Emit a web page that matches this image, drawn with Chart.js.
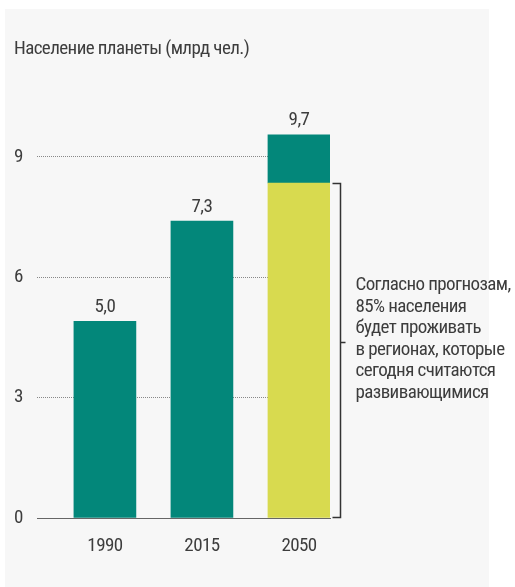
<!DOCTYPE html>
<html lang="ru">
<head>
<meta charset="utf-8">
<script src="https://cdn.jsdelivr.net/npm/chart.js@4.4.1/dist/chart.umd.min.js"></script>
<style>
  html, body { margin: 0; padding: 0; background: #ffffff; }
  #wrap { position: absolute; left: 0; top: 0; width: 515px; height: 587px; }
</style>
</head>
<body>
<div id="wrap"><canvas id="popChart" width="515" height="587"></canvas></div>
<script>
// Данные графика
const years = ['1990', '2015', '2050'];
const lowerValues = [4.9, 7.4, 8.35];      // нижняя часть столбца
const upperValues = [null, null, 1.2];     // верхняя часть (только 2050)
const valueLabels = ['5,0', '7,3', '9,7'];
const yTickValues = [0, 3, 6, 9];
const chartTitle = 'Население планеты (млрд чел.)';
const noteLines = [
    'Согласно прогнозам,',
    '85% населения',
    'будет проживать',
    'в регионах, которые',
    'сегодня считаются',
    'развивающимися'
];

const TEAL = '#03877a';
const YELLOW = '#d8da4f';
const TEXT = '#3d3d3d';
const FONT = "'Roboto Condensed', 'Liberation Sans Narrow', 'Arial Narrow', 'DejaVu Sans Condensed', Roboto, sans-serif";
const lowerColors = [TEAL, TEAL, YELLOW];

Chart.defaults.font.family = FONT;
Chart.defaults.font.size = 19;
Chart.defaults.color = TEXT;

// серый фон-подложка + более узкий шрифт
const panelPlugin = {
    id: 'panel',
    beforeUpdate(chart) {
        chart.ctx.letterSpacing = '-0.6px';
    },
    beforeDraw(chart) {
        const ctx = chart.ctx;
        ctx.letterSpacing = '-0.6px';
        ctx.save();
        ctx.fillStyle = '#f7f7f7';
        ctx.fillRect(5, 9, 484, 578);
        ctx.restore();
    }
};

// подписи значений над столбцами и скобка с комментарием
const labelsPlugin = {
    id: 'valueLabels',
    afterDatasetsDraw(chart) {
        const ctx = chart.ctx;
        const yScale = chart.scales.y;
        const meta = chart.getDatasetMeta(0);
        ctx.save();
        ctx.font = '19px ' + FONT;
        ctx.fillStyle = TEXT;
        ctx.textAlign = 'center';
        ctx.textBaseline = 'alphabetic';
        years.forEach((y, i) => {
            const total = lowerValues[i] + (upperValues[i] || 0);
            const top = yScale.getPixelForValue(total);
            ctx.fillText(valueLabels[i], meta.data[i].x, top - 9.5);
        });

        // скобка справа от 2050
        const bar = meta.data[2];
        const bx = Math.round(bar.x + bar.width / 2 + 10) + 0.5;
        const bTop = Math.round(yScale.getPixelForValue(lowerValues[2])) + 0.5;
        const bBottom = Math.round(yScale.getPixelForValue(0)) - 0.5;
        const pointerY = Math.round(bTop + (bBottom - bTop) * 0.476) + 0.5;
        ctx.strokeStyle = '#333';
        ctx.lineWidth = 1.5;
        ctx.beginPath();
        ctx.moveTo(bx - 8, bTop);
        ctx.lineTo(bx, bTop);
        ctx.lineTo(bx, bBottom);
        ctx.lineTo(bx - 8, bBottom);
        ctx.moveTo(bx, pointerY);
        ctx.lineTo(bx + 5, pointerY);
        ctx.stroke();

        ctx.textAlign = 'left';
        ctx.textBaseline = 'middle';
        noteLines.forEach((line, i) => {
            ctx.fillText(line, bx + 15, pointerY - 57 + i * 21.5);
        });
        ctx.restore();
    }
};

const ctx = document.getElementById('popChart').getContext('2d');
window.popChartInstance = new Chart(ctx, {
    type: 'bar',
    data: {
        datasets: [
            {
                data: lowerValues.map((v, i) => ({ x: i, y: v })),
                backgroundColor: lowerColors,
                barThickness: 62,
                borderWidth: 0
            },
            {
                data: upperValues.map((v, i) => ({ x: i, y: v })),
                backgroundColor: TEAL,
                barThickness: 62,
                borderWidth: 0
            }
        ]
    },
    options: {
        responsive: false,
        animation: false,
        layout: { padding: { left: 14, right: 185, top: 0, bottom: 0 } },
        plugins: {
            legend: { display: false },
            tooltip: { enabled: false },
            title: {
                display: true,
                text: chartTitle,
                align: 'start',
                color: TEXT,
                font: { size: 19, weight: 'normal' },
                padding: { top: 38, bottom: 56 }
            }
        },
        scales: {
            x: {
                type: 'linear',
                stacked: true,
                offset: false,
                min: -0.7,
                max: 2.32,
                afterBuildTicks: scale => { scale.ticks = years.map((y, i) => ({ value: i })); },
                afterFit: scale => { scale.height = 69; },
                grid: { display: false, offset: false },
                border: { display: true, color: '#666', width: 1 },
                ticks: {
                    color: TEXT,
                    font: { size: 19 },
                    padding: 9,
                    maxRotation: 0,
                    autoSkip: false,
                    callback: v => years[v]
                }
            },
            y: {
                stacked: true,
                min: 0,
                max: 10,
                afterBuildTicks: scale => { scale.ticks = yTickValues.map(v => ({ value: v })); },
                afterFit: scale => { scale.width = 23; },
                grid: { color: '#888', lineWidth: 1, drawTicks: false },
                border: { display: false, dash: [1, 1] },
                ticks: {
                    color: TEXT,
                    font: { size: 19 },
                    crossAlign: 'far',
                    padding: 0
                }
            }
        }
    },
    plugins: [panelPlugin, labelsPlugin]
});
</script>
</body>
</html>
